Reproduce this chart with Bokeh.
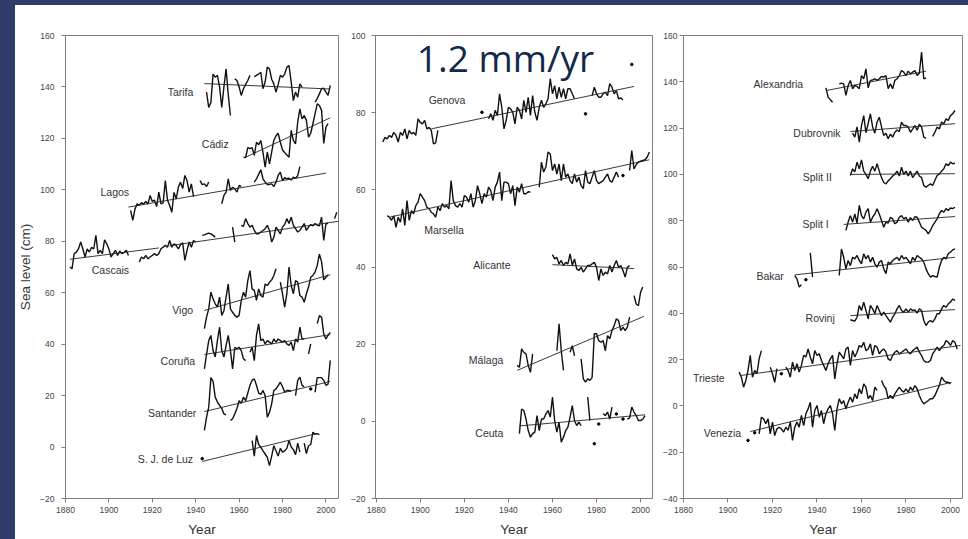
import numpy as np
from bokeh.plotting import figure
from bokeh.models import Range1d, FixedTicker, Label, Spacer
from bokeh.layouts import row, column
from bokeh.embed import file_html
from bokeh.resources import INLINE
from bokeh.core.properties import value

N = None  # missing year

# ---------------- annual mean sea level (cm), one value per year ----------------
# Atlantic / Iberian gauges
tarifa_start = 1945
tarifa = [138, 132, 134, 145, 143.8, 144.5, 140, 132, 140, 147, 137, 128.9, N,
          143.2, 142.5, 140, 136.7, 139.3, 141, 142.5, 144.5, N, 144, 144.5, 145, 145.7,
          139.3, 142, 147.7, 147, 143, 141.2, 138, 141, 144.5, 143.8, 145, 147.7, 148.3,
          141.9, 134.7, 138, 136, 141.2, 139.9, N, N, N, N, N,
          134.1, 135.5, 137.3, 139.3, 139.5, 138, 136.7, 140.6]
tarifa_trend = [[1944, 141.3, 2002, 139.2]]

cadiz_start = 1962
cadiz = [112.7, 112.5, 116.4, 116, 116.4, 113.4, 118.5, 117.5, 119.2, 114.5, 108.8,
         114.7, 110.1, 114.7, 119.2, 121, 122, 118.5, 115.5, 114.5, 113.5, 112.7, 123.1,
         119.2, 117.9, 126.3, 131.5, 127.6, 128.9, 127, 120.5, 122, 125.7, 129.6, 133.4,
         132.8, 130.9, 118, 124.4, 125.7]
cadiz_trend = [[1963, 112.7, 2002, 128]]

lagos_start = 1910
lagos = [92, 88.1, 92.5, 94.6, 94, 95, 94.5, 95.5, 94.5, 97.8, 95.5, 96, 93.5, 99.1,
         94.5, 95, 103.6, 96, 93.9, 91.3, 99, 96.5, 101, 103, 100.5, 105.6, 103.6, 99.1,
         102.3, 97.4, N, N, 103.6, 102, 102.3, 101.3, 103, N, N, N, N, N,
         94.6, 97.8, 99.1, 104.3, 99.8, 101, 100.4, 99.1, 101.7, 101.3, N, N, N, N, N,
         103, 104.3, 106, 107.8, 104.3, 103, 102.1, 102.1, 102.3, 101.3, 103, 105.6, 106.9,
         103.6, 104.7, 104.3, 104.5, 103.8, 104.9, 104.5, 105.5, 109]
lagos_trend = [[1909, 93.3, 2000, 106.5]]

cascais_start = 1882
cascais = [70, 69.3, 75.2, 75.8, 77.1, 79.7, 77, 73.9, 77, 75.8, 77.7, 77, 82.3, 75.2,
           76.5, 75.2, 80.6, 79, 77, 73.9, 75.2, 76.5, 74.5, 76.2, 75.2, 75.6, 76.5, 74.5,
           N, N, N, N,
           71.9, 73.9, 73.2, 74.5, 73.2, 73.9, 74.5, 75.2, 74.5, 75.2, 77.1, 77.7, 78.4,
           77.7, 80.3, 77.7, 79, 78.4, 77, 78.7, 79.4, 72.6, 76.5, 79.7, 77.7, 80.3, 79.7,
           N, N, 82.3, 82.5, 82.9, 83.2, 82.9, 82.3, 81.6, N, N, N, N, N, N, N,
           85.5, 79.7, N, N,
           86.2, 85.8, 88.8, 86.9, 85.5, 86.2, 84.2, 82.9, 82.9, 83.6, 84.2, 84.9, 86.2,
           84.2, 79.7, 81.5, 85.5, 84.2, 82.9, 85.5, 86.5, 88.8, 86.9, 89.4, 86.2, 84.9,
           83.6, 84.2, 85.5, 86.9, 84.2, 85.5, 86.5, 86, 86.9, 86.2, 86, 89.4, 80.3, 86.9,
           86.9, N, N, 88.8, 91.3]
cascais_trend = [[1882, 73, 1923, 77.4], [1928, 78.3, 2006, 87.8]]

vigo_start = 1944
vigo = [46, 50.5, 53.7, 60.2, 57.6, 55.7, 54.4, 58.3, 51.2, 53, 58.3, 63.4, 53.7, 52.4,
        51.2, 50.5, 51.2, 57, 60.2, 58.3, 64.7, 68.6, 61.5, 60.9, 57, 61.5, 58.9, 58.3,
        63.4, 62.8, 64.1, 65, 66.7, 69.3, N, 64.1, 59.6, 54.4, 59.6, 70, 62.8, 59.6,
        64.7, 64.1, 58.9, 58.3, 56.3, 59.6, 62.2, 66, 66.7, 68, 70.6, 75, 72, 65, 66, 67]
vigo_trend = [[1944, 53.1, 2002, 67]]

coruna_start = 1944
coruna = [30.4, 36, 41.4, 43.4, 37.5, 35, 41.4, 46.6, 37.5, 35, 39.5, 43.4, 37.5, 30.4,
          38.8, 38.2, 38.8, 37.5, 34.3, 33.6, N, 36.9, 38.8, 33.6, 43.4, 47.9, 41.4, 42,
          40.1, 41.4, 40.8, 40.1, 42, 40.8, 42, 41.4, 40.8, 41.4, 40.1, 39.5, 40.8, 37.5,
          42, 40.8, 46.6, 42, 42.1, N, 36.2, 40.1, N, N, 48, 51.1, 50.5, 44, 42, 43.5, 44.6]
coruna_trend = [[1944, 36, 2002, 43.7]]

santander_start = 1944
santander = [6.5, 11.6, 15.5, 27, 25.5, 19.4, 17.5, 16.2, 15, 12.9, 12.5, N, 10.3, 11,
             12.9, 15, 18, 17, 19.4, 18, 21, 24, 26, 26.5, 24, 21, 20.5, 22, 20, 11.6,
             13.5, 16.8, 22, 22.6, 23.9, 25.2, 23.5, 21.3, 22, 22, 21.5, N, 20, 25.9, 27.2,
             24, 23.5, N, N, 22.6, N, 21.3, 27, 27, 27, 25.9, 24, 24.5, 33.7]
santander_trend = [[1944, 13.8, 2002, 25.5]]

sjluz_start = 1943
sjluz = [-4.5] + [N] * 22 + [2.5, -3.5, 4.5, 1, 0, -1.5, -2.7, -4, -7.2, -3.5, 0.5, -1.5,
                             -3.5, -0.5, -2, -1.5, -0.5, 2.5, 0, -1, -3, 1.5, -2, N, 1.5,
                             -2.5, 0.5, 1, 5.8, 5, 5.2, 4.8]
sjluz_trend = [[1943, -5.6, 1996, 5.3]]

# Western Mediterranean gauges
genova_start = 1883
genova = [72.4, 73.6, 73.2, 74.1, 73.6, 74.9, 74.1, 72.4, 74.9, 74.1, 75.8, 73.2, 75.4,
          74.5, 74.9, 74.1, 78.4, 77.5, 77.1, 78, 75.8, 76.2, 75.4, 71.9, 72.2, 75.4] + \
         [N] * 19 + [80.1, N, N,
          78.4, 79.7, 78, 80.6, 79.3, 84.9, 81.4, 75.8, 78, 81.4, 81, 80.1, 77.1, 81.4,
          80.6, 78.4, 83.2, 80.1, 84, 79.3, 84.4, 80.1, 78, 81.4, 83.2, 81.4, 82.3, 83.6,
          88.8, 84.9, 87, 83.6, 86.6, 84, 86.2, 83.6, 86.2, 86.2, 84.9, 83.6, N, N, N, N,
          79.7, N, N, 84.4, 86.6, 84.9, 84, 84, 84.9, 85.3, 84.4, 87.5, 86.6, 84.9, 85.7,
          83.6, 83.8, 83.3, N, N, N, 92.5]
genova_trend = [[1905, 75.8, 1997, 86.8]]

marsella_start = 1885
marsella = [53.3, 52.9, 52.1, 53.3, 50.3, 52.9, 51.6, 55.1, 50.8, 57.2, 52.1, 54.6, 53.8,
            55.9, 56.8, 59, 58.1, 57.2, 55.5, 55.1, 54.2, 53.8, 52.9, 55.5, 54.6, 56.4,
            55.5, 55.9, 55.1, 62.4, 57.2, 55.9, 55.5, 56.4, 55.5, 58.5, 58.1, 56.8, 59,
            55.5, 57.2, 61.1, 59, 56.4, 59, 58.1, 60.7, 59.8, 57.2, 60.7, 62, 64.6, 57.2,
            62, 62, 61.6, 59, 61.1, 55.9, 60.7, 59.4, 61.6, 59, 59, 59.5, 59.4, N, N, N,
            60.7, 67.2, 64.6, 65.9, 69.8, 69.3, 65, 66.7, 64.1, 66.7, 62.4, 66.7, 63.3,
            64.1, 62.4, 61.6, 64.1, 62, 63.3, 61.1, 60.3, 65, 62, 61.6, 63.3, 65, 62.4,
            61.6, 62, 62.4, 63.3, 64.1, 62.4, 62, 63.3, 64.6, 63.3, N, 63.7, N, N,
            65, 70.2, 65.4, 66.5, 67.2, 67.4, 67.6, 67.8, 68.5, 69.8]
marsella_trend = [[1886, 52.9, 2004, 67.8]]

alicante_start = 1960
alicante = [43.2, 42.1, 42.5, 40.8, 41.7, 40.4, 41.2, 40.8, 43.4, 40.4, 42.1, 39.5, 39.1,
            39.9, 38.7, 39.5, 40.4, 40.4, 40.8, 41.2, 39.9, 36.5, 39.5, 37.8, 38.7, 38.2,
            40.4, 38.7, 40.4, 41.7, 39.9, 40.4, 39.1, 37.4, 39.9, 40.4]
alicante_trend = [[1960, 40.6, 1997, 39.6]]

malaga_start = 1944
malaga = [14.5, 14, 18.8, 17.9, 17.5, 14.5, 12.7, 17.5] + [N] * 10 + \
         [18.3, 25.3, 18.3, 13.2, N, N, 17.9, 19.6, 17, N, N,
          16.2, 11, 10.2, 11, 10.6, 11.4, 22.7, 22.7, 20.9, 20.5, 20.9, 18.3, 22.2, 21.4,
          23.5, 24.8, 26.6, 26.1, 23.5, 24.4, 23.5, 24.4, 27, N, 32.6, 30.4, 30, 33.5, 34.8]
malaga_trend = [[1944, 13.2, 2001.5, 27.2]]

ceuta_start = 1945
ceuta = [-3.2, 3.2, 2.8, 0.6, -2.4, -4.1, -3.2, -2.8, 1.5, -2.4, 0.6, 0.6, 1.9, 2.8, 1.1,
         6.3, 0.2, -2.8, -0.2, -5.4, -4.1, -2.4, -1.5, 1.1, 4.1, 0.2, -1.1, -0.2, -1.1,
         N, N, 6.3, 0.2, N, -5.8, N, -0.7, N, 2, 1.5, 2.4, 0.6, 3.7, N, 1.9, N, N,
         0.6, N, 0.6, 0.9, 3.7, 2.4, 1.5, 0.2, 0.2, 0.6, 1.5]
ceuta_trend = [[1945, -1.2, 2002, 1.7]]

# Eastern Mediterranean / Adriatic gauges
alexandria_start = 1944
alexandria = [137.4, 133.4, 132.2, 131.2, N, N, 139.1, 139.4, 139.1, 134.1, 138.4, 140.6,
              137, 138.4, 138, 137, 142.7, 141.3, 145.6, 137.4, 140.6, 140.8, 141.3, 140.6,
              141.3, 142.3, 142, 142.7, 137, 139.1, 137, 140.6, 141.3, 142.7, 144.9, 144.2,
              142.7, 144.6, 143.4, 144.2, 144.9, 142.7, 143.7, 152.8, 141.3, 141.7]
alexandria_trend = [[1944, 136.2, 1989, 144.6]]

dubrovnik_start = 1956
dubrovnik = [117.8, 116.1, 120.5, 113.9, 121.1, 125.4, 118, 122, 126.2, 120.5, 117.8,
             122.6, 124.7, 120.5, 116.8, 117.8, 115.4, 117.4, 116.1, 118.2, 119.2, 118.5,
             122.6, 121.1, 121.1, 120.5, 118.2, 119.6, 121.1, 119.1, 121.7, 120.5, 116.1,
             115.6, N, N, 116.4, 118.2, 120.5, 119.6, 122.6, 121.9, 124, 123.3, 125.4,
             126.2, 127.6]
dubrovnik_trend = [[1955, 118.5, 2002, 121.9]]

split2_start = 1955
split2 = [99.5, 102.4, 101.1, 105.3, 102.4, 106.3, 101.4, 100, 98.1, 101.4, 103.5, 101.4,
          104.6, 101.4, 98.6, 96.5, 95.9, 97.2, 98.1, 99.3, 100, 101.4, 99.3, 103.1, 100,
          101.4, 99.3, 101.4, 98.6, 100, 101.4, 99.3, 98.6, 95.2, 94.5, 95.2, 95.9, 95.2,
          97.5, 99.5, 100.2, 101.4, 102.4, 104.6, 103.8, 105.3, 104.6, 104.8]
split2_trend = [[1955, 100, 2002, 100.3]]

split1_start = 1953
split1 = [75.8, 79.4, 82.2, 79.4, 82.9, 79, 86.6, 82.2, 80.8, 83.7, 85.2, 79.4, 81.5,
          82.9, 85.2, 82.9, 80.1, 77.2, 79.4, 79, 81.5, 80.8, 78.7, 79.4, 81.5, 82.2,
          80.8, 81.5, 79.4, 81.3, 80.1, 81.7, 81.5, 79.4, 77.2, 76.5, 75.8, 74.3, 75.8,
          77.9, 79.4, 80.8, 83, 84.4, 83.7, 85.2, 84.4, 85.5, 85.2, 85.8]
split1_trend = [[1952, 78.4, 2002, 81.8]]

bakar_start = 1930
bakar = [56.3, 54.9, 51.3, 52.4, N, 54.5, N, 66.1, 55.6] + [N] * 11 + \
        [56.3, 67.8, 64.2, 59.2, 62.8, 60.6, 64.2, 63.5, 65, 62.8, 61.4, 65.7, 63.5, 65,
         62.1, 64.2, 61.4, 59.9, 62.1, 62.8, 59.2, 57.1, 62.1, 61.4, 62.8, 63.5, 64.2,
         62.8, 65, 63.5, 64.2, 62.8, 61.4, 64.2, 62.8, 65, 64.2, 63.5, 62.1, 59.2, 57.1,
         55.6, 56.3, 55.9, 55.6, 59.9, 62.8, 64.2, 63.5, 65.7, 66.4, 67.4, 67.8]
bakar_trend = [[1930, 56.6, 2002, 64.2]]

rovinj_start = 1955
rovinj = [37.2, 36.9, 36.6, 38.3, 43.4, 41.2, 44.8, 41.2, 37.6, 43.4, 41.9, 39.8, 43.4,
          41.2, 39, 40.5, 39, 37.6, 36.2, 38.3, 39.8, 41.9, 43.4, 41.2, 40.5, 41.9, 40.5,
          41.9, 41.2, 41.5, 40.1, 41.9, 41.2, 36.9, 34.7, 36.2, 36.9, 36.2, 37.6, 39.8,
          39.8, 41.9, 43.4, 42.6, 44.1, 44.8, 46.2, 45.5]
rovinj_trend = [[1955, 39, 2002, 41.6]]

trieste_start = 1905
trieste = [14.6, 12.4, 8.1, 10.9, 15.3, 21.8, 12.4, 15.3, 13.9, 20.3, 23.9, N, N, N,
           16.7, 13.9, 10.2, 16.1, N, 13.9, N,
           16.7, 15.3, 12.4, 18.9, 15.3, 18.2, 14.6, 17.5, 21.8, 21.1, 24.6, 21.1, 18.2,
           23.9, 21.8, 22.5, 19.6, 17.5, 15.3, 18.2, 20.3, 21.8, 11.7, 18.2, 23.2, 21.8,
           20.3, 24.6, 25.4, 17.5, 23.9, 21.1, 23.2, 26.1, 25.4, 27.5, 23.9, 24.6, 26.8,
           21.8, 26.1, 25.4, 22.5, 23.9, 24.6, 23.2, 20.3, 19.6, 21.8, 23.2, 23.9, 22.5,
           23.2, 23.9, 24.6, 23.2, 22.5, 23.9, 24.6, 25.4, 23.2, 21.8, 19.6, 18.9, 18.9,
           19.6, 22.5, 23.9, 25.4, 23.9, 25.4, 26.1, 28.2, 27.5, 26.1, 28.2, 27.5, 24.6]
trieste_trend = [[1905.5, 13.1, 2004.5, 26.1]]

venezia_start = 1909
venezia = [-14.9, N, N, -11.6, N,
           -12.1, -4.9, -5.6, -7.7, -5.6, -12.1, -7, -12.8, -9.9, -9.2, -9.9, -11.3, -9.2,
           -10.6, -7, -14.9, -9.2, -7, -9.2, -4.1, -8.5, -3.4, -1.3, 1.6, -9.2, -2, 0.2,
           -4.9, -2, -7.7, -3.4, -1.3, 0.2, -3.4, -10.6, -1.3, 3.1, 0.9, 2.3, -1.3, 1.6,
           3.8, 1.6, 5.2, 3.1, 7.4, 5.2, 9.5, 8.1, 3.1, 4.5, 2.3, 8.1, 6.7, N,
           11, 8.8, 7.4, 3.1, 4.5, 3.1, 5.2, 6.7, 8.1, 6.7, 5.9, 7.4, 5.9, 8.1, 6.7, 8.8,
           7.4, 4.5, 2.3, 0.9, 1.6, 2.3, 3.1, 3.1, 4.5, 6.7, 8.8, 12.4, 11, 10.2, 10.2, 9.5]
venezia_trend = [[1910, -11.1, 2000.5, 10.2]]

# ---------------- panels: (name, first year, values, trend segments) ----------------
west = [("Tarifa", tarifa_start, tarifa, tarifa_trend),
        ("Cádiz", cadiz_start, cadiz, cadiz_trend),
        ("Lagos", lagos_start, lagos, lagos_trend),
        ("Cascais", cascais_start, cascais, cascais_trend),
        ("Vigo", vigo_start, vigo, vigo_trend),
        ("Coruña", coruna_start, coruna, coruna_trend),
        ("Santander", santander_start, santander, santander_trend),
        ("S. J. de Luz", sjluz_start, sjluz, sjluz_trend)]
middle = [("Genova", genova_start, genova, genova_trend),
          ("Marsella", marsella_start, marsella, marsella_trend),
          ("Alicante", alicante_start, alicante, alicante_trend),
          ("Málaga", malaga_start, malaga, malaga_trend),
          ("Ceuta", ceuta_start, ceuta, ceuta_trend)]
east = [("Alexandria", alexandria_start, alexandria, alexandria_trend),
        ("Dubrovnik", dubrovnik_start, dubrovnik, dubrovnik_trend),
        ("Split II", split2_start, split2, split2_trend),
        ("Split I", split1_start, split1, split1_trend),
        ("Bakar", bakar_start, bakar, bakar_trend),
        ("Rovinj", rovinj_start, rovinj, rovinj_trend),
        ("Trieste", trieste_start, trieste, trieste_trend),
        ("Venezia", venezia_start, venezia, venezia_trend)]

# where each station name sits (right edge, vertical middle), in data units
label_at = {
    "Tarifa": (1938.9, 138), "Cádiz": (1955.2, 117.9), "Lagos": (1909.3, 99.1),
    "Cascais": (1909.3, 68.9), "Vigo": (1938.8, 53.3), "Coruña": (1939.7, 33.6),
    "Santander": (1940.3, 13.2), "S. J. de Luz": (1938.8, -4.6),
    "Genova": (1920.5, 83.2), "Marsella": (1919.8, 49.6), "Alicante": (1941, 40.4),
    "Málaga": (1937.7, 15.8), "Ceuta": (1937.7, -3.1),
    "Alexandria": (1933.8, 139.1), "Dubrovnik": (1950.6, 117.8), "Split II": (1946.7, 98.8),
    "Split I": (1945.3, 78.4), "Bakar": (1925.1, 56.3), "Rovinj": (1948, 38.1),
    "Trieste": (1898.5, 12.1), "Venezia": (1905.9, -11.8),
}

FONT = "Liberation Sans"
GREY = "#7f7f7f"
SLIDE = "#303c6c"


def make_panel(width, border_left, border_right, xr, yr, yticks, stations,
               ylabel=None, ylabel_standoff=4, ylabel_tick_standoff=7):
    p = figure(width=width, height=534, x_range=Range1d(*xr), y_range=Range1d(*yr),
               output_backend="svg", toolbar_location=None,
               min_border_left=border_left, min_border_right=border_right,
               min_border_top=30, min_border_bottom=41)
    p.xgrid.visible = False
    p.ygrid.visible = False
    p.outline_line_color = GREY
    p.outline_line_width = 1
    p.background_fill_color = "white"
    p.border_fill_color = "white"

    p.xaxis.ticker = FixedTicker(ticks=list(range(1880, 2001, 20)))
    p.yaxis.ticker = FixedTicker(ticks=list(yticks))
    for ax in (p.xaxis[0], p.yaxis[0]):
        ax.axis_line_color = GREY
        ax.major_tick_line_color = GREY
        ax.major_tick_out = 4
        ax.major_tick_in = 0
        ax.minor_tick_line_color = None
        ax.major_label_text_font = FONT
        ax.major_label_text_font_size = "8.5px"
        ax.major_label_text_color = "#444444"
        ax.axis_label_text_font = FONT
        ax.axis_label_text_font_size = "13.5px"
        ax.axis_label_text_font_style = "normal"
        ax.axis_label_text_color = "#333333"
    p.xaxis.major_label_standoff = 4
    p.xaxis.axis_label = "Year"
    p.xaxis.axis_label_standoff = 6
    p.yaxis.major_label_standoff = ylabel_tick_standoff
    if ylabel:
        p.yaxis.axis_label = ylabel
        p.yaxis.axis_label_standoff = ylabel_standoff

    names, lx, ly = [], [], []
    for name, start, vals, trend in stations:
        y = np.array(vals, dtype=float)
        x = np.arange(start, start + len(y))
        p.line(x, y, line_color="#111111", line_width=1.4)
        # years with no neighbours show up as lone dots
        ok = ~np.isnan(y)
        prev_ok = np.concatenate([[False], ok[:-1]])
        next_ok = np.concatenate([ok[1:], [False]])
        lone = ok & ~prev_ok & ~next_ok
        if lone.any():
            p.scatter(x[lone], y[lone], size=2.5, color="black")
        for x0, y0, x1, y1 in trend:
            p.segment(x0=[x0], y0=[y0], x1=[x1], y1=[y1], line_color="#222222",
                      line_width=0.9)
        names.append(name)
        lx.append(label_at[name][0])
        ly.append(label_at[name][1])
    p.text(x=lx, y=ly, text=names, text_align="right", text_baseline="middle",
           text_font=value(FONT), text_font_size="10.5px", text_color="#333333")
    return p


p1 = make_panel(330, 47, 7, (1880, 2005.8), (-20, 160), range(-20, 161, 20), west,
                ylabel="Sea level (cm)", ylabel_standoff=4, ylabel_tick_standoff=7)
p2 = make_panel(315, 30, 8, (1879.7, 2005.4), (-20, 100), range(-20, 101, 20), middle,
                ylabel_tick_standoff=6)
p3 = make_panel(308, 23, 6, (1880, 2005.4), (-40, 160), range(-40, 161, 20), east,
                ylabel_tick_standoff=2)

p2.add_layout(Label(x=1938.7, y=94.2, text="1.2 mm/yr", text_align="center",
                    text_baseline="alphabetic", text_font="Open Sans",
                    text_font_size="37px", text_color="#13294b"))

# dark slide margin on the top and left, white sheet behind the three panels
top_band = Spacer(width=968, height=5, styles={"background-color": SLIDE})
left_band = Spacer(width=15, height=534, styles={"background-color": SLIDE})
panels = row(left_band, p1, p2, p3, styles={"background-color": "white"})
layout = column(top_band, panels, styles={"background-color": "white"})

open("out.html", "w").write(file_html(layout, INLINE))
